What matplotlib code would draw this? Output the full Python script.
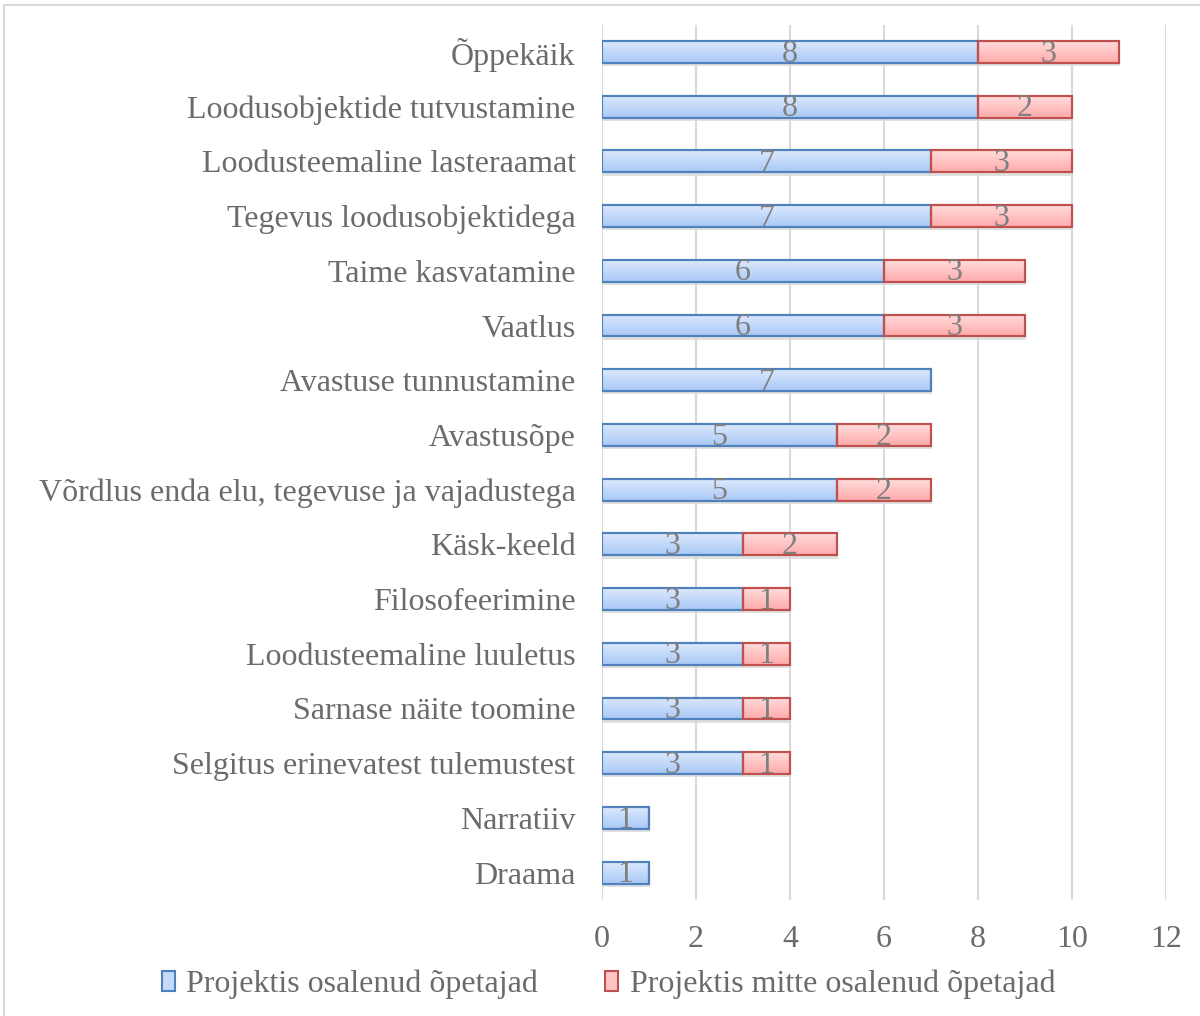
import matplotlib
matplotlib.use("Agg")
import matplotlib.pyplot as plt
import numpy as np
from matplotlib.patches import Rectangle, Patch

categories = ["Õppekäik", "Loodusobjektide tutvustamine", "Loodusteemaline lasteraamat",
              "Tegevus loodusobjektidega", "Taime kasvatamine", "Vaatlus",
              "Avastuse tunnustamine", "Avastusõpe",
              "Võrdlus enda elu, tegevuse ja vajadustega", "Käsk-keeld",
              "Filosofeerimine", "Loodusteemaline luuletus", "Sarnase näite toomine",
              "Selgitus erinevatest tulemustest", "Narratiiv", "Draama"]
osalenud = [8, 8, 7, 7, 6, 6, 7, 5, 5, 3, 3, 3, 3, 3, 1, 1]
mitte_osalenud = [3, 2, 3, 3, 3, 3, 0, 2, 2, 2, 1, 1, 1, 1, 0, 0]
series_names = ["Projektis osalenud õpetajad", "Projektis mitte osalenud õpetajad"]
xticks = [0, 2, 4, 6, 8, 10, 12]

plt.rcParams['font.family'] = ['Liberation Serif', 'DejaVu Serif']
fig = plt.figure(figsize=(12, 10.16), dpi=100)
ax = fig.add_axes([0.5017, 0.1142, 0.4700, 0.8616])

FS = 23
y = np.arange(len(categories))
h = 0.4
blue_edge = "#4f81bd"
red_edge = "#c0504d"
txt = "#6b6b6b"

def grad_fill(bars, top, bot):
    cmap = matplotlib.colors.LinearSegmentedColormap.from_list("g", [top, bot])
    grad = np.linspace(0, 1, 64).reshape(-1, 1)
    for b in bars:
        if b.get_width() <= 0:
            continue
        x0, y0 = b.get_x(), b.get_y()
        w, hh = b.get_width(), b.get_height()
        ax.add_patch(Rectangle((x0 + 0.03, y0 + 0.06), w, hh, facecolor="#000000",
                               alpha=0.12, edgecolor="none", zorder=1.5))
        im = ax.imshow(grad, extent=(x0, x0 + w, y0 + hh, y0), cmap=cmap, aspect="auto",
                       zorder=2.5, interpolation="bicubic")
        im.set_clip_path(b)

b1 = ax.barh(y, osalenud, height=h, facecolor="#c5daf8", edgecolor=blue_edge,
             linewidth=1.5, zorder=3, label=series_names[0])
b2 = ax.barh(y, mitte_osalenud, left=osalenud, height=h, facecolor="#ffc4c4",
             edgecolor=red_edge, linewidth=1.5, zorder=3, label=series_names[1])
for b in list(b1) + list(b2):
    b.set_facecolor("none")
grad_fill(b1, "#dce9fc", "#a9c8f6")
grad_fill(b2, "#ffdcdc", "#ffaaaa")
for bars, ec in ((b1, blue_edge), (b2, red_edge)):
    for b in bars:
        if b.get_width() > 0:
            ax.add_patch(Rectangle((b.get_x(), b.get_y()), b.get_width(), b.get_height(),
                                   facecolor="none", edgecolor=ec, linewidth=1.5, zorder=4))

for i in range(len(categories)):
    if osalenud[i] > 0:
        ax.text(osalenud[i] / 2, y[i] + 0.04, str(osalenud[i]), ha="center", va="center",
                fontsize=FS, color="#7f7f7f", zorder=5)
    if mitte_osalenud[i] > 0:
        ax.text(osalenud[i] + mitte_osalenud[i] / 2, y[i] + 0.04, str(mitte_osalenud[i]),
                ha="center", va="center", fontsize=FS, color="#7f7f7f", zorder=5)

ax.set_ylim(len(categories) - 0.5, -0.5)
ax.set_xlim(0, 12)
ax.set_xticks(xticks)
ax.set_xticklabels([str(t) for t in xticks])
ax.set_yticks(y)
ax.set_yticklabels(categories)
ax.tick_params(axis="both", length=0, labelsize=FS, colors=txt)
ax.tick_params(axis="y", pad=19)
ax.tick_params(axis="x", pad=18)
ax.grid(axis="x", color="#d9d9d9", linewidth=1.5, zorder=0)
for s in ax.spines.values():
    s.set_visible(False)

handles = [Patch(facecolor="#c5daf8", edgecolor=blue_edge, linewidth=1.5),
           Patch(facecolor="#ffc4c4", edgecolor=red_edge, linewidth=1.5)]
fig.legend(handles, series_names, loc="center", bbox_to_anchor=(0.507, 0.031), ncol=2,
           frameon=False, fontsize=FS, labelcolor=txt, handlelength=0.42, handleheight=0.55,
           handletextpad=0.35, columnspacing=2.1)

fig.add_artist(Rectangle((0.003, -0.01), 1.2, 1.005, transform=fig.transFigure,
                         facecolor="none", edgecolor="#d9d9d9", linewidth=1.5))

fig.savefig("out.png", dpi=100)
